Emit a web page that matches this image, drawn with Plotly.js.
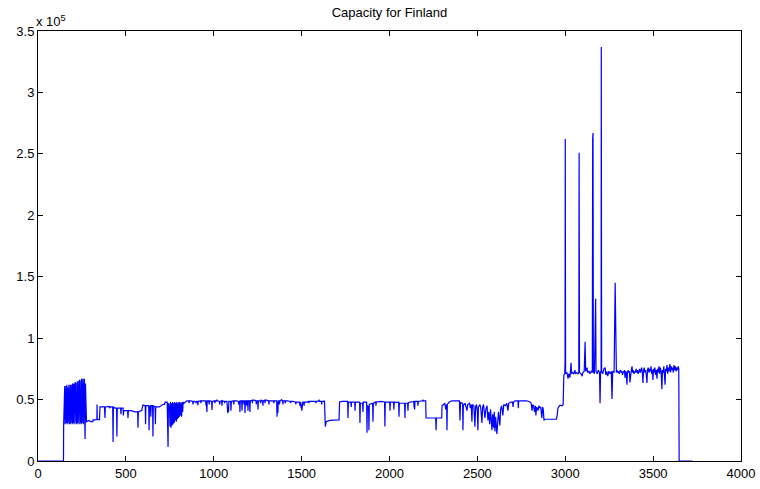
<!DOCTYPE html>
<html>
<head>
<meta charset="utf-8">
<script src="https://cdn.plot.ly/plotly-3.0.1.min.js"></script>
<style>html,body{margin:0;padding:0;background:#fff;}#chart{width:760px;height:489px;}</style>
</head>
<body>
<div id="chart"></div>
<script>
// Capacity values are in units of 10^5. Each segment: day index + capacity.
const daysA = [1,145];
const capA  = [0,0];

const daysB = [
146,148,150,152,154,156,158,160,162,164,
166,168,170,172,174,176,178,180,182,184,
186,188,190,192,194,196,198,200,202,204,
206,208,210,212,214,216,218,220,222,224,
226,228,230,232,234,236,238,240,242,244,
246,248,250,252,254,256,258,260,262,264,
266,268,270,272];
const capB = [
.30,.60,.31,.61,.30,.60,.32,.61,.31,.62,
.30,.60,.31,.61,.32,.62,.30,.61,.31,.62,
.30,.61,.32,.62,.31,.63,.30,.62,.31,.63,
.32,.62,.30,.64,.31,.63,.32,.64,.30,.65,
.31,.64,.32,.65,.30,.66,.31,.65,.32,.66,
.30,.67,.31,.66,.32,.67,.30,.66,.31,.67,
.32,.18,.63,.32];

const daysC = [
276,290,300,312,313,330,335,336,337,350,
353,378,381,383,405,410,412,425,427,429,
438,447,449,451,470,472,474,484,486,488,
510,512,514,530,552,567,569,571,590,597,
610,612,614,630,632,634,640,642,644,652,
654,656,666,668,670,690,700,710,720,723,
735,738,740,742,748];
const capC = [
.32,.33,.32,.32,.335,.335,.34,.46,.34,.335,
.44,.44,.35,.44,.445,.43,.44,.44,.155,.44,
.43,.43,.20,.43,.43,.38,.43,.43,.37,.41,
.41,.35,.41,.41,.40,.40,.27,.40,.41,.455,
.45,.30,.45,.45,.25,.44,.45,.36,.45,.45,
.20,.45,.44,.30,.44,.44,.45,.46,.46,.48,
.48,.30,.115,.47,.45];

const daysE = [
751,754,757,760,763,766,769,772,775,778,
781,784,787,790,793,796,799,802,805,808,
811,814,817,820,823,826,830,840,848];
const capE = [
.28,.48,.27,.47,.29,.48,.30,.47,.31,.48,
.33,.47,.32,.48,.34,.47,.35,.48,.36,.48,
.37,.47,.36,.48,.40,.48,.47,.48,.49];

const daysF = [
858,860,862,870,880,882,884,890,898,900,
902,908,910,912,925,927,929,940,954,956,
958,961,963,972,974,976,988,990,992,1005,
1007,1009,1016,1018,1020,1032,1034,1036,1045,1047,
1049,1060,1062,1064,1075,1078,1080,1082,1084,1086,
1096,1098,1100,1112,1114,1116,1130,1140,1142,1144,
1147,1149,1151,1159,1161,1163,1170,1172,1174,1176,
1178,1180,1186,1188,1190,1193,1195,1197,1204,1206,
1208,1218,1220,1222,1230,1240,1242,1244,1250,1252,
1254,1265,1267,1269,1278,1280,1282,1290,1292,1294,
1300,1312,1314,1316,1330,1340,1342,1344,1358,1360,
1362,1365,1367,1372,1374,1376,1380,1385,1392,1394,
1396,1405,1407,1409,1420,1435,1437,1439,1450,1465,
1467,1469,1480,1488,1490,1492,1495,1497,1499,1501,
1503,1505,1507,1512,1514,1516,1530,1540,1542,1544,
1550,1570,1580,1582,1584,1597,1599,1601,1612,1614,
1616,1625,1630,1635,1640,1660,1690,1713,1716,1730];
const capF = [
.49,.47,.49,.49,.485,.46,.485,.485,.48,.47,
.485,.485,.455,.485,.49,.47,.49,.49,.49,.45,
.49,.40,.49,.49,.46,.49,.485,.415,.485,.49,
.47,.49,.49,.50,.49,.485,.46,.485,.49,.45,
.49,.485,.47,.485,.485,.43,.39,.44,.40,.485,
.485,.41,.485,.49,.46,.49,.49,.485,.46,.485,
.49,.40,.49,.49,.41,.49,.49,.46,.49,.49,
.39,.49,.49,.45,.49,.49,.41,.49,.49,.40,
.49,.495,.47,.495,.495,.49,.46,.49,.49,.42,
.49,.49,.47,.495,.49,.45,.49,.495,.47,.495,
.495,.49,.46,.49,.49,.49,.47,.49,.49,.36,
.48,.39,.49,.49,.46,.49,.49,.50,.49,.46,
.49,.49,.47,.49,.49,.485,.47,.485,.485,.48,
.46,.48,.48,.48,.45,.48,.48,.43,.46,.41,
.45,.42,.48,.48,.45,.48,.48,.485,.47,.485,
.485,.485,.485,.47,.485,.49,.50,.485,.485,.46,
.485,.485,.49,.28,.32,.33,.33,.335,.48,.485];

const daysG = [
1750,1762,1764,1766,1780,1782,1784,1802,1804,1806,
1830,1832,1834,1847,1849,1851,1870,1872,1874,1881,
1883,1885,1904,1906,1908,1921,1923,1925,1950,1972,
1974,1976,2001,2003,2005,2023,2025,2027,2040,2052,
2054,2056,2070,2086,2088,2090,2103,2105,2107,2120,
2138,2140,2142,2143,2145,2160,2162,2164,2188,2190,
2192,2206];
const capG = [
.485,.485,.35,.48,.48,.44,.48,.48,.41,.48,
.48,.31,.47,.47,.40,.48,.48,.23,.45,.44,
.25,.46,.47,.32,.47,.48,.45,.48,.485,.48,
.28,.48,.48,.41,.48,.48,.42,.48,.475,.48,
.36,.47,.47,.47,.35,.47,.47,.41,.475,.48,
.485,.44,.485,.42,.485,.485,.45,.485,.49,.50,
.49,.49];

const daysH = [
2208,2230,2250,2263,2265,2267,2280,2297,2299,2305,
2315,2320,2325,2327,2329,2340,2355,2380,2398,2401,
2404,2410,2416,2418,2420,2430,2436,2441,2445,2455,
2460,2465,2469,2472,2480,2486,2490,2495,2500,2503,
2506,2515,2520,2526,2530,2535,2543,2548,2555,2560,
2565,2570,2575,2580,2583,2587,2592,2596,2600,2604,
2608,2611,2615,2620,2625,2628,2632,2638,2645,2650,
2660,2667,2674,2678,2690,2700,2703,2706,2714,2731,
2733,2735,2760,2780,2800,2806,2811,2815,2820,2825,
2830,2833,2837,2845,2850,2855,2860,2867,2871,2875,
2879,2884,2900,2920,2940,2950,2955,2958,2963,2970,
2982,2988,2992];
const capH = [
.35,.35,.35,.35,.25,.35,.35,.35,.45,.46,
.47,.42,.46,.25,.46,.48,.49,.49,.49,.33,
.48,.47,.47,.25,.45,.47,.44,.41,.46,.47,
.43,.46,.32,.46,.45,.28,.44,.46,.40,.25,
.44,.46,.42,.31,.44,.46,.35,.42,.45,.33,
.40,.30,.42,.35,.25,.38,.27,.40,.24,.36,
.26,.22,.30,.40,.33,.29,.42,.45,.37,.46,
.45,.47,.41,.47,.48,.48,.44,.48,.49,.49,
.43,.49,.49,.49,.48,.47,.41,.46,.45,.40,
.45,.37,.44,.41,.45,.43,.44,.35,.44,.42,
.33,.34,.34,.34,.335,.34,.38,.43,.44,.455,
.45,.46,.70];

const daysI = [
2997,2999,3000,3002,3010,3016,3020,3027,3033,3036,
3040,3048,3055,3058,3066,3072,3077,3079,3081,3090,
3096,3100,3108,3113,3116,3124,3127,3135,3140,3148,
3154,3156,3158,3160,3166,3173,3175,3182,3188,3195,
3198,3201,3204,3205,3207,3213,3220,3227,3231,3236,
3242,3248,3255,3262,3266,3270,3278,3284];
const capI = [
.71,.80,2.62,.71,.72,.67,.71,.68,.80,.71,
.72,.71,.74,.71,.72,.71,.72,2.51,.72,.71,
.69,.72,.73,.97,.73,.76,.72,.73,.71,.73,
.72,2.62,2.67,.73,.71,1.32,.73,.71,.74,.72,
.47,.73,.72,3.37,.73,.71,.75,.76,.70,.73,
.69,.73,.71,.73,.505,.73,.72,1.45];

const daysJ = [
3287,3291,3295,3299,3303,3307,3311,3315,3319,3322,
3326,3330,3334,3337,3340,3343,3347,3351,3354,3358,
3362,3365,3368,3372,3376,3380,3383,3387,3391,3395,
3399,3403,3407,3411,3415,3419,3423,3427,3431,3435,
3439,3442,3445,3449,3453,3457,3461,3465,3468,3472,
3476,3480,3484,3488,3492,3496,3499,3502,3506,3510,
3514,3518,3522,3525,3529,3533,3537,3541,3545,3548,
3550,3553,3557,3561,3565,3568,3571,3575,3579,3583,
3587,3591,3595,3599,3603,3607,3611,3615,3619,3623,
3627,3631,3635,3639,3643,3646,3648,3725];
const capJ = [
.73,.72,.74,.72,.73,.71,.73,.74,.72,.73,
.70,.73,.72,.74,.675,.73,.72,.62,.72,.74,
.72,.73,.64,.72,.74,.77,.72,.74,.71,.73,
.72,.75,.72,.74,.71,.73,.75,.72,.74,.76,
.71,.635,.73,.76,.72,.74,.70,.635,.74,.76,
.72,.75,.73,.77,.71,.74,.66,.75,.72,.76,
.70,.74,.67,.75,.72,.77,.71,.76,.73,.66,
.585,.74,.72,.77,.70,.62,.75,.73,.78,.71,
.76,.73,.79,.72,.77,.74,.76,.72,.78,.74,
.77,.73,.76,.74,.77,.75,0,0];

const xTicks = [0,500,1000,1500,2000,2500,3000,3500,4000];
const yTicks = [0,0.5,1,1.5,2,2.5,3,3.5];
const yTickLabels = ['0','0.5','1','1.5','2','2.5','3','3.5'];

const day = [].concat(daysA, daysB, daysC, daysE, daysF, daysG, daysH, daysI, daysJ);
const capacity = [].concat(capA, capB, capC, capE, capF, capG, capH, capI, capJ);

const font = {family: 'Liberation Sans, Arial, Helvetica, sans-serif', size: 13, color: '#000'};

Plotly.newPlot('chart', [{
  x: day, y: capacity, type: 'scatter', mode: 'lines',
  line: {color: '#0000ff', width: 1.2}, hoverinfo: 'skip'
}], {
  width: 760, height: 489,
  margin: {l: 38, r: 19, t: 31, b: 28, pad: 0},
  paper_bgcolor: '#fff', plot_bgcolor: '#fff',
  showlegend: false,
  font: font,
  title: {text: 'Capacity for Finland', font: font, x: 0.5, xanchor: 'center', xref: 'paper', y: 0.974, yanchor: 'middle'},
  xaxis: {range: [0, 4000], tickvals: xTicks, ticktext: xTicks.map(String), ticks: 'inside', ticklen: 5, tickcolor: '#000',
          showline: true, linecolor: '#000', linewidth: 1, mirror: 'ticks', showgrid: false, zeroline: false, tickfont: font},
  yaxis: {range: [0, 3.5], tickvals: yTicks, ticktext: yTickLabels, ticks: 'inside', ticklen: 5, tickcolor: '#000',
          showline: true, linecolor: '#000', linewidth: 1, mirror: 'ticks', showgrid: false, zeroline: false, tickfont: font},
  annotations: [{xref: 'paper', yref: 'paper', x: 0, y: 1, xanchor: 'left', yanchor: 'bottom', showarrow: false,
                 text: 'x 10<sup>5</sup>', font: font, xshift: -4, yshift: 0}]
}, {staticPlot: true});
</script>
</body>
</html>
